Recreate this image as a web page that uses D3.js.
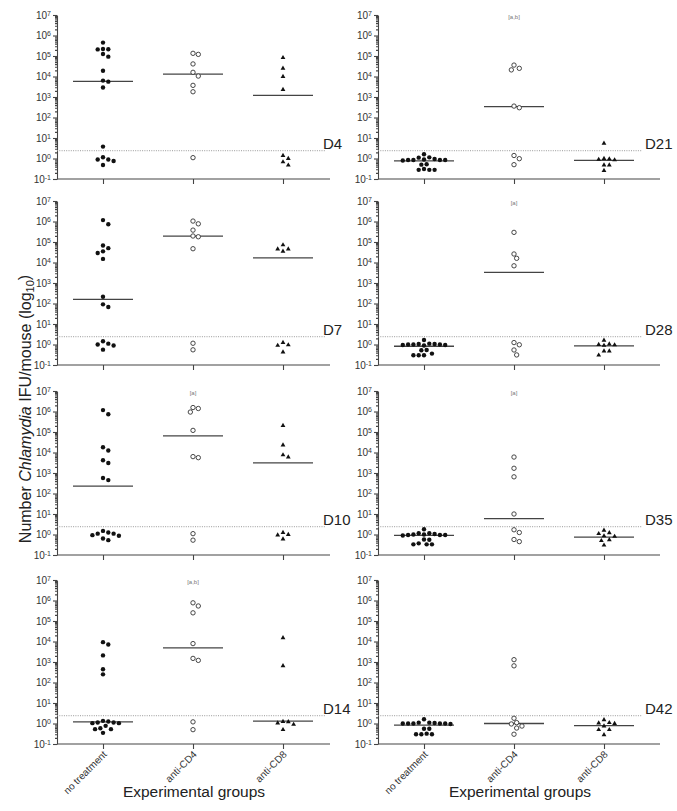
<!DOCTYPE html>
<html>
<head>
<meta charset="utf-8">
<script src="https://cdn.jsdelivr.net/npm/d3@7"></script>
<style>
  body { margin: 0; background: #fff; }
  svg text { font-family: "Liberation Sans", Arial, sans-serif; }
</style>
</head>
<body>
<svg id="chart" width="677" height="811"></svg>
<script>
// Chlamydia IFU per mouse, by day and experimental group (log scale dot plots)

const days = ["D4", "D7", "D10", "D14", "D21", "D28", "D35", "D42"];
const groups = ["no treatment", "anti-CD4", "anti-CD8"];

// one array of mice per day
const noTreatment = [
  [4.5e5, 2.15e5, 2.2e5, 2.1e5, 1.25e5, 9.3e4, 1.9e4, 5.6e3, 6.3e3, 2.9e3, 3.8, 0.9, 1.15, 0.9, 0.76, 0.48],
  [1.17e6, 7.4e5, 6.8e4, 5e4, 3.5e4, 2.9e4, 1.5e4, 213, 68, 91, 1.45, 0.9, 1.1, 1.0, 0.56],
  [1.17e6, 7.3e5, 1.8e4, 1.26e4, 4.2e3, 3.1e3, 570, 450, 1.5, 0.87, 1.1, 0.53, 1.1, 0.64, 1.25, 0.93],
  [9.3e3, 7.1e3, 2.1e3, 440, 250, 1.35, 1.12, 1.04, 1.04, 1.12, 1.25, 0.59, 0.53, 0.77, 0.53, 0.35],
  [1.6, 1.14, 0.85, 0.85, 0.8, 0.85, 0.9, 0.85, 0.95, 1.1, 0.52, 0.5, 0.28, 0.28, 0.28, 0.31],
  [1.65, 1.0, 1.05, 0.95, 1.0, 0.9, 1.0, 1.05, 0.95, 1.1, 0.54, 0.52, 0.3, 0.3, 0.3, 0.36],
  [1.8, 1.15, 1.0, 0.95, 0.95, 0.9, 0.95, 1.0, 1.05, 1.15, 0.57, 0.55, 0.33, 0.33, 0.33, 0.37],
  [1.6, 1.1, 1.0, 1.0, 0.95, 1.0, 1.0, 1.0, 1.05, 1.1, 0.55, 0.55, 0.3, 0.3, 0.3, 0.32]
];
const antiCD4 = [
  [1.35e5, 1.2e5, 4.1e4, 1.6e4, 1.05e4, 3.7e3, 1.8e3, 1.1],
  [1.05e6, 7.7e5, 3.8e5, 1.96e5, 1.8e5, 4.7e4, 1.15, 0.55],
  [1.56e6, 9.4e5, 1.4e6, 1.2e5, 5.6e3, 6.3e3, 1.1, 0.53],
  [7.7e5, 5.4e5, 2.5e5, 7.9e3, 1.2e3, 1.5e3, 1.2, 0.5],
  [3.6e4, 2.5e4, 2.1e4, 300, 360, 1.4, 0.98, 0.5],
  [2.95e5, 2.6e4, 1.6e4, 6.9e3, 1.24, 0.97, 0.54, 0.31],
  [6e3, 1.7e3, 650, 10, 1.7, 1.25, 0.45, 0.57],
  [1.3e3, 650, 1.8, 0.95, 1.1, 0.75, 0.6, 0.3]
];
const antiCD8 = [
  [8.3e4, 2.5e4, 1.0e4, 2.3e3, 1.4, 1.0, 0.68, 0.47],
  [7.2e4, 4.5e4, 4.5e4, 3.5e4, 0.95, 0.9, 1.25, 0.43],
  [2.05e5, 2.3e4, 6e3, 7.6e3, 1.0, 1.25, 0.93, 0.6],
  [1.5e4, 650, 1.2, 1.05, 1.25, 0.5, 0.9],
  [5.5, 1.0, 0.9, 0.85, 0.95, 0.48, 0.48, 0.26],
  [1.6, 1.0, 0.95, 0.9, 1.05, 0.48, 0.48, 0.3],
  [1.6, 1.2, 1.1, 0.85, 0.8, 0.55, 0.5, 0.3],
  [1.5, 1.1, 1.0, 1.05, 0.75, 0.5, 0.5, 0.28]
];

// horizontal bars drawn through each group
const medianNoTreatment = [5.8e3, 160, 230, 1.2, 0.76, 0.82, 0.9, 0.83];
const medianAntiCD4 = [1.3e4, 1.95e5, 6.5e4, 4.9e3, 340, 3.3e3, 5.9, 1.0];
const medianAntiCD8 = [1.2e3, 1.7e4, 3.1e3, 1.3, 0.81, 0.85, 0.75, 0.78];

const annotations = ["", "", "[a]", "[a,b]", "[a,b]", "[a]", "[a]", ""];
const detectionLimit = 2.4;
const exponents = [-1, 0, 1, 2, 3, 4, 5, 6, 7];

// layout
const svg = d3.select("#chart");
const rowTop = [15, 201, 391, 580], plotH = 164;
const colLeft = [57, 378], colRight = [330, 660], lodEnd = [325, 642], labelX = [323, 645];

const series = [noTreatment, antiCD4, antiCD8];
const medians = [medianNoTreatment, medianAntiCD4, medianAntiCD8];
const minorTicks = [];
exponents.slice(0, -1).forEach(e => d3.range(2, 10).forEach(m => minorTicks.push(m * 10 ** e)));

// simple beeswarm: spread points sideways when they would overlap
function swarm(values, y, cx) {
  const half = 2.65, minDist = 5;
  const pts = values.map(v => ({ v, py: y(v) })).sort((a, b) => a.py - b.py);
  const placed = [];
  pts.forEach(p => {
    for (let k = 0; k < 40; k++) {
      const off = k === 0 ? 0 : (k % 2 ? 1 : -1) * Math.ceil(k / 2) * half;
      if (placed.every(q => Math.hypot(q.px - (cx + off), q.py - p.py) >= minDist)) {
        p.px = cx + off;
        break;
      }
    }
    placed.push(p);
  });
  return placed;
}

days.forEach((day, i) => {
  const col = Math.floor(i / 4), row = i % 4;
  const x0 = colLeft[col], top = rowTop[row], bottom = top + plotH;

  const y = d3.scaleLog().domain([0.1, 1e7]).range([bottom, top]);
  const x = d3.scalePoint().domain(groups).range([x0 + 46, x0 + 226]);

  const g = svg.append("g");

  // y axis with major and minor ticks
  const yAxis = g.append("g")
    .attr("transform", `translate(${x0},0)`)
    .call(d3.axisLeft(y).tickValues(exponents.map(e => 10 ** e)).tickSize(4).tickSizeOuter(0).tickPadding(2));
  yAxis.selectAll(".tick text")
    .attr("font-size", 10)
    .attr("fill", "#333")
    .text("10")
    .append("tspan")
    .attr("dy", "-0.45em")
    .attr("font-size", 7)
    .text((d, j) => exponents[j] < 0 ? "-" + Math.abs(exponents[j]) : exponents[j]);
  g.append("g")
    .attr("transform", `translate(${x0},0)`)
    .call(d3.axisLeft(y).tickValues(minorTicks).tickSize(2).tickFormat(""))
    .select(".domain").remove();

  // x axis
  const xAxis = g.append("g")
    .attr("transform", `translate(0,${bottom})`)
    .call(d3.axisBottom(x).tickSize(5).tickSizeOuter(0).tickFormat(row === 3 ? d => d : ""));
  xAxis.select(".domain").remove();
  xAxis.append("line")
    .attr("x1", x0).attr("x2", colRight[col])
    .attr("stroke", "#444").attr("stroke-width", 1.2);
  if (row === 3) {
    xAxis.selectAll(".tick text")
      .attr("font-size", 10)
      .attr("fill", "#333")
      .attr("text-anchor", "end")
      .attr("dy", 0)
      .attr("y", 0)
      .attr("transform", "translate(4,11) rotate(-45)");
  }

  g.selectAll(".domain, .tick line").attr("stroke", "#444").attr("stroke-width", 1.1);

  // detection limit and day label
  g.append("line")
    .attr("x1", x0).attr("x2", lodEnd[col])
    .attr("y1", y(detectionLimit)).attr("y2", y(detectionLimit))
    .attr("stroke", "#999").attr("stroke-width", 1)
    .attr("stroke-dasharray", "1,1.3");
  g.append("text")
    .attr("x", labelX[col]).attr("y", y(detectionLimit) - 2)
    .attr("font-size", 15).attr("fill", "#222")
    .text(day);

  // significance note above the anti-CD4 group
  if (annotations[i]) {
    g.append("text")
      .attr("x", x("anti-CD4")).attr("y", y(1e7) + 2)
      .attr("text-anchor", "middle").attr("dominant-baseline", "middle")
      .attr("font-size", 6).attr("fill", "#777")
      .text(annotations[i]);
  }

  // medians
  groups.forEach((grp, k) => {
    g.append("line")
      .attr("x1", x(grp) - 30).attr("x2", x(grp) + 30)
      .attr("y1", y(medians[k][i])).attr("y2", y(medians[k][i]))
      .attr("stroke", "#444").attr("stroke-width", 1.3);
  });

  // points
  const p0 = swarm(series[0][i], y, x(groups[0]));
  g.selectAll(".nt").data(p0).enter().append("circle")
    .attr("cx", d => d.px).attr("cy", d => d.py).attr("r", 2.2)
    .attr("fill", "#111");

  const p1 = swarm(series[1][i], y, x(groups[1]));
  g.selectAll(".cd4").data(p1).enter().append("circle")
    .attr("cx", d => d.px).attr("cy", d => d.py).attr("r", 2.2)
    .attr("fill", "#fff").attr("stroke", "#333").attr("stroke-width", 0.9);

  const p2 = swarm(series[2][i], y, x(groups[2]));
  g.selectAll(".cd8").data(p2).enter().append("path")
    .attr("transform", d => `translate(${d.px},${d.py})`)
    .attr("d", d3.symbol(d3.symbolTriangle, 10))
    .attr("fill", "#111");
});

// axis titles
const yTitle = svg.append("text")
  .attr("transform", "translate(31,409) rotate(-90)")
  .attr("text-anchor", "middle")
  .attr("font-size", 16)
  .attr("fill", "#222");
yTitle.append("tspan").text("Number ");
yTitle.append("tspan").attr("font-style", "italic").text("Chlamydia");
yTitle.append("tspan").text(" IFU/mouse (log");
yTitle.append("tspan").attr("font-size", 11).attr("dy", "0.3em").text("10");
yTitle.append("tspan").attr("dy", "-0.3em").text(")");

[194, 520].forEach(cx => {
  svg.append("text")
    .attr("x", cx).attr("y", 797)
    .attr("text-anchor", "middle")
    .attr("font-size", 15.5)
    .attr("fill", "#222")
    .text("Experimental groups");
});
</script>
</body>
</html>
